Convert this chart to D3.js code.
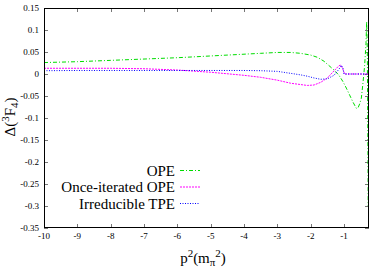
<!DOCTYPE html>
<html>
<head>
<meta charset="utf-8">
<script src="https://cdn.jsdelivr.net/npm/d3@7"></script>
<style>
  html, body { margin: 0; padding: 0; background: #fff; }
  svg { display: block; }
  text { font-family: "Liberation Serif", "Times New Roman", serif; fill: #000; }
</style>
</head>
<body>
<svg id="chart" width="382" height="267"></svg>
<script>
// ---- data ----
const xTicks = [-10, -9, -8, -7, -6, -5, -4, -3, -2, -1];
const yTicks = [0.15, 0.1, 0.05, 0, -0.05, -0.1, -0.15, -0.2, -0.25, -0.3, -0.35];

const seriesNames = ["OPE", "Once-iterated OPE", "Irreducible TPE"];
const seriesColors = ["#00dd00", "#ff00ff", "#0000ff"];

const opeX = [-10, -9, -8, -7, -6, -5, -4, -3.5, -3, -2.6, -2.3, -2.0, -1.8, -1.6, -1.45, -1.3, -1.15, -1.03, -0.93, -0.83, -0.73, -0.63, -0.58, -0.53, -0.48, -0.43, -0.38, -0.34, -0.32, -0.30, -0.28, -0.275];
const opeY = [0.026, 0.028, 0.031, 0.034, 0.037, 0.041, 0.045, 0.047, 0.049, 0.049, 0.047, 0.043, 0.038, 0.029, 0.019, 0.009, -0.003, -0.0175, -0.032, -0.048, -0.064, -0.078, -0.077, -0.068, -0.055, -0.02, 0.020, 0.07, 0.119, 0.05, -0.2, -0.30];

const onceX = [-10, -9, -8, -7, -6, -5, -4, -3.5, -3, -2.6, -2.3, -2.1, -1.9, -1.7, -1.5, -1.3, -1.15, -1.1, -1.05, -0.98, -0.8, -0.6, -0.4, -0.275];
const onceY = [0.013, 0.013, 0.013, 0.012, 0.009, 0.004, -0.003, -0.0075, -0.014, -0.021, -0.024, -0.026, -0.025, -0.019, -0.009, 0.007, 0.019, 0.020, 0.014, 0.0, 0.0, 0.0, 0.0, 0.0];

const tpeX = [-10, -9, -8, -7, -6, -5, -4, -3.5, -3, -2.6, -2.3, -2.1, -1.9, -1.7, -1.5, -1.3, -1.15, -1.08, -1.03, -1.0, -0.8, -0.6, -0.4, -0.275];
const tpeY = [0.0075, 0.008, 0.008, 0.008, 0.008, 0.008, 0.008, 0.0075, 0.006, 0.0015, -0.002, -0.005, -0.009, -0.012, -0.011, -0.003, 0.011, 0.020, 0.013, 0.0, 0.0, 0.0, 0.0, 0.0];

// ---- layout ----
const svg = d3.select("#chart");
const L = 44, R = 369, T = 8, B = 228;
const x = d3.scaleLinear().domain([-10, -0.25]).range([L, R]);
const y = d3.scaleLinear().domain([-0.35, 0.15]).range([B, T]);

const tickLen = 4;
const tickColor = "#777";

// ticks (inward, mirrored)
const g = svg.append("g");
xTicks.forEach(t => {
  const px = Math.round(x(t)) + 0.5;
  g.append("line").attr("x1", px).attr("x2", px).attr("y1", B).attr("y2", B - tickLen).attr("stroke", tickColor);
  g.append("line").attr("x1", px).attr("x2", px).attr("y1", T).attr("y2", T + tickLen).attr("stroke", tickColor);
  g.append("text").attr("x", x(t)).attr("y", 239).attr("text-anchor", "middle")
    .attr("font-size", "9px").text(String(t));
});
yTicks.forEach(t => {
  const py = Math.round(y(t)) + 0.5;
  g.append("line").attr("x1", L).attr("x2", L + tickLen).attr("y1", py).attr("y2", py).attr("stroke", tickColor);
  g.append("line").attr("x1", R).attr("x2", R - tickLen).attr("y1", py).attr("y2", py).attr("stroke", tickColor);
  g.append("text").attr("x", 39).attr("y", y(t) + 3).attr("text-anchor", "end")
    .attr("font-size", "9px").text(String(+t.toFixed(2)));
});

// clip
svg.append("clipPath").attr("id", "clip").append("rect")
  .attr("x", L).attr("y", T).attr("width", R - L).attr("height", B - T);

const line = d3.line().x(d => x(d[0])).y(d => y(d[1]));
const dashes = ["4,2,1,2", "2,1", "1,1.5"];
const series = [
  d3.zip(opeX, opeY),
  d3.zip(onceX, onceY),
  d3.zip(tpeX, tpeY)
];
const plot = svg.append("g").attr("clip-path", "url(#clip)");
series.forEach((s, i) => {
  plot.append("path").datum(s).attr("d", line)
    .attr("fill", "none").attr("stroke", seriesColors[i])
    .attr("stroke-width", 1).attr("stroke-dasharray", dashes[i]);
});

// frame
svg.append("rect").attr("x", L + 0.5).attr("y", T + 0.5).attr("width", R - L - 1).attr("height", B - T - 1)
  .attr("fill", "none").attr("stroke", "#000").attr("stroke-width", 1);

// legend
const legY = [170.5, 187, 203.5];
seriesNames.forEach((n, i) => {
  svg.append("text").attr("x", 175).attr("y", legY[i] + 5).attr("text-anchor", "end")
    .attr("font-size", "15px").text(n);
  svg.append("line").attr("x1", 180).attr("x2", 200).attr("y1", legY[i]).attr("y2", legY[i])
    .attr("stroke", seriesColors[i]).attr("stroke-width", 1).attr("stroke-dasharray", dashes[i]);
});

// x-axis title
const xt = svg.append("text").attr("x", 203).attr("y", 263).attr("text-anchor", "middle").attr("font-size", "15px");
xt.append("tspan").text("p");
xt.append("tspan").attr("dy", -6).attr("font-size", "11px").text("2");
xt.append("tspan").attr("dy", 6).text("(m");
xt.append("tspan").attr("dy", 3).attr("font-size", "11px").text("π");
xt.append("tspan").attr("dy", -9).attr("font-size", "11px").text("2");
xt.append("tspan").attr("dy", 6).text(")");

// y-axis title
const yt = svg.append("text").attr("transform", "translate(15,117) rotate(-90)")
  .attr("text-anchor", "middle").attr("font-size", "15px");
yt.append("tspan").text("Δ(");
yt.append("tspan").attr("dy", -6).attr("font-size", "11px").text("3");
yt.append("tspan").attr("dy", 6).text("F");
yt.append("tspan").attr("dy", 3).attr("font-size", "11px").text("4");
yt.append("tspan").attr("dy", -3).text(")");
</script>
</body>
</html>
